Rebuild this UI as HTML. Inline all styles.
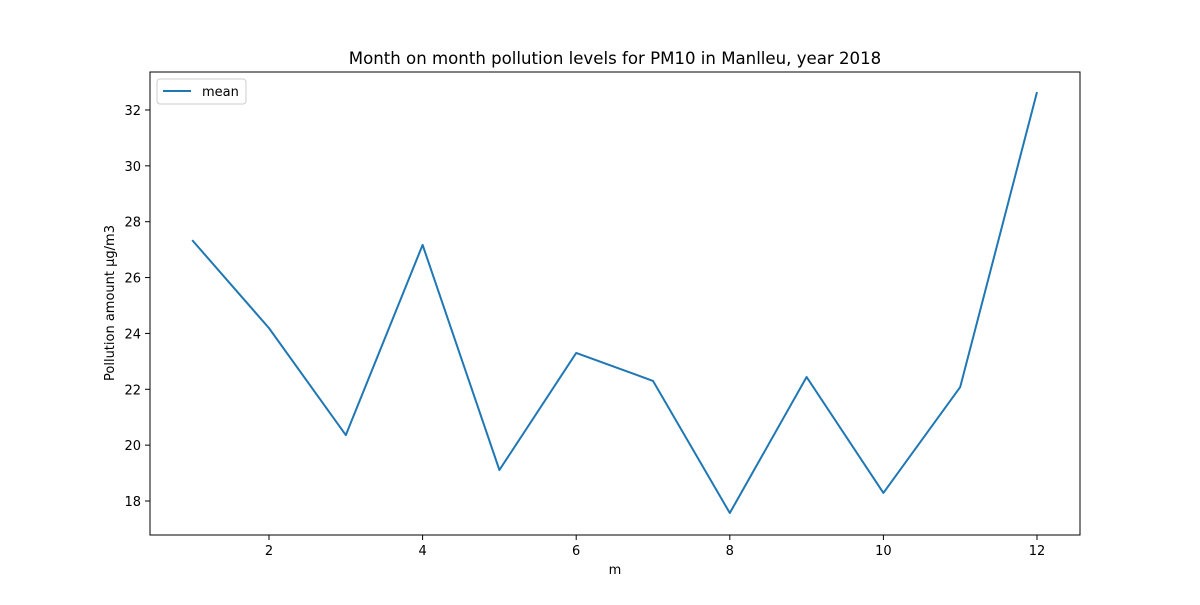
<!DOCTYPE html>
<html><head><meta charset="utf-8"><style>
body{margin:0;background:#fff;}
svg text{font-family:"DejaVu Sans","Liberation Sans",sans-serif;fill:#000;}
</style></head><body>
<svg id="chart" width="1200" height="600" xmlns="http://www.w3.org/2000/svg">
<rect width="1200" height="600" fill="#fff"/>
<text x="615" y="64" font-size="16.6" text-anchor="middle">Month on month pollution levels for PM10 in Manlleu, year 2018</text>
<g id="ticks"></g>
<polyline id="line" fill="none" stroke="#1f77b4" stroke-width="2" stroke-linejoin="round"/>
<rect x="150" y="72" width="930" height="463" fill="none" stroke="#000" stroke-width="1"/>
<text x="615" y="574" font-size="13" text-anchor="middle">m</text>
<text transform="translate(114,303) rotate(-90)" font-size="13" text-anchor="middle">Pollution amount µg/m3</text>
<g>
<rect x="157" y="79" width="89" height="25" rx="3" fill="#fff" stroke="#ccc"/>
<line x1="163" y1="91" x2="191" y2="91" stroke="#1f77b4" stroke-width="2"/>
<text x="202" y="96" font-size="13">mean</text>
</g>
</svg>
<script>
const months=[1,2,3,4,5,6,7,8,9,10,11,12];
const meanValues=[27.34,24.19,20.36,27.17,19.11,23.30,22.30,17.57,22.44,18.29,22.08,32.64];
const xTicks=[2,4,6,8,10,12];
const yTicks=[18,20,22,24,26,28,30,32];
function xs(v){return 269+(v-2)*76.8;}
function ys(v){return 501-(v-18)*27.93;}
const ns="http://www.w3.org/2000/svg";
const g=document.getElementById('ticks');
function mk(tag,attrs){const e=document.createElementNS(ns,tag);for(const k in attrs)e.setAttribute(k,attrs[k]);g.appendChild(e);return e;}
xTicks.forEach(t=>{
 const l=mk('line',{x1:xs(t),x2:xs(t),y1:535,y2:540,stroke:'#000'});
 
 
 const tx=mk('text',{x:xs(t),y:555,'font-size':13,'text-anchor':'middle'});
 tx.textContent=t;
 
 
});
yTicks.forEach(t=>{
 const l=mk('line',{x1:145,x2:150,y1:ys(t),y2:ys(t),stroke:'#000'});
 
 
 const tx=mk('text',{x:141,y:ys(t)+5,'font-size':13,'text-anchor':'end'});
 tx.textContent=t;
 
 
});
document.getElementById('line').setAttribute('points',months.map((m,i)=>xs(m)+','+ys(meanValues[i])).join(' '));
</script>
</body></html>
